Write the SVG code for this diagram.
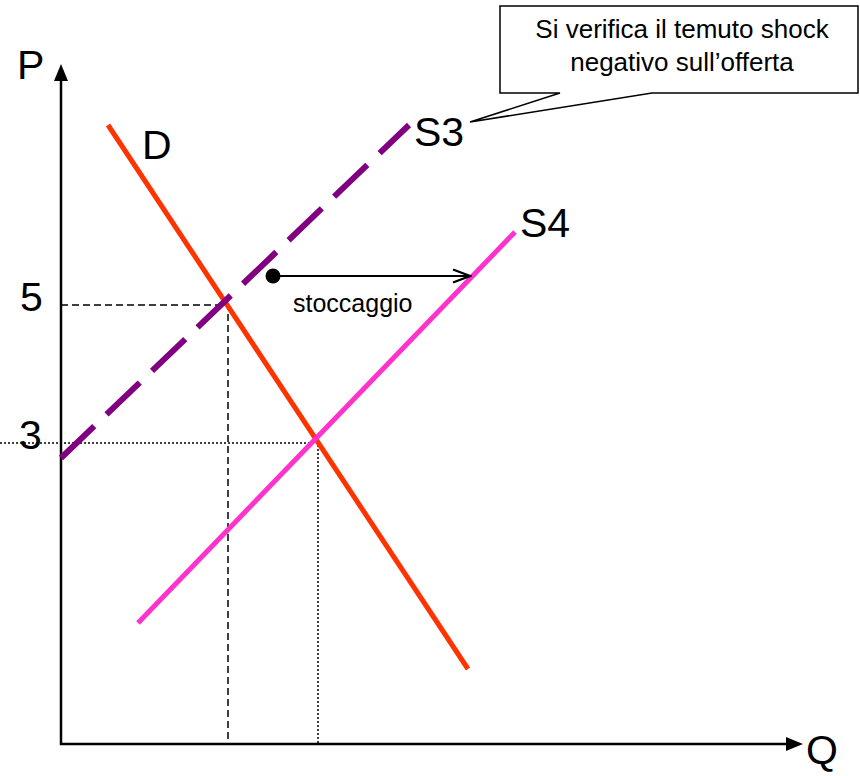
<svg xmlns="http://www.w3.org/2000/svg" width="860" height="776" viewBox="0 0 860 776">
<style>
.lbl{font-family:"Liberation Sans",Arial,sans-serif;fill:#000}
.big{font-size:41px}
.small{font-size:26px}
.axis{stroke:#000;stroke-width:2.5;fill:none}
.guide{stroke:#000;stroke-width:1.5;fill:none}
</style>
<defs>
<marker id="open" viewBox="0 0 20 16" refX="18" refY="8" markerWidth="20" markerHeight="16" markerUnits="userSpaceOnUse" orient="auto">
<path d="M1,1.5 L18,8 L1,14.5" fill="none" stroke="#000" stroke-width="2.2"/>
</marker>
</defs>
<rect width="860" height="776" fill="#fff"/>
<g id="axes">
<line class="axis" x1="61" y1="745" x2="61" y2="78"/>
<polygon points="61,64 54,81 68,81" fill="#000"/>
<line class="axis" x1="60" y1="744" x2="790" y2="744"/>
<polygon points="803,744 786,737 786,751" fill="#000"/>
<text class="lbl big" x="17" y="79">P</text>
<text class="lbl big" x="806" y="764">Q</text>
</g>
<g id="guides">
<path class="guide" stroke-dasharray="7,4" d="M61,305 H228 V744"/>
<path class="guide" stroke-dasharray="2,2" d="M0,443 H318 V744"/>
<text class="lbl big" x="20" y="311">5</text>
<text class="lbl big" x="19" y="449">3</text>
</g>
<g id="curve-D">
<line x1="108" y1="125" x2="468" y2="669" stroke="#FF3300" stroke-width="5"/>
<text class="lbl big" x="142" y="159">D</text>
</g>
<g id="curve-S3">
<line x1="61" y1="458" x2="409" y2="125" stroke="#800080" stroke-width="6" stroke-dasharray="46,17"/>
<text class="lbl big" x="414" y="146">S3</text>
</g>
<g id="curve-S4">
<line x1="138" y1="623" x2="515" y2="232" stroke="#FF33CC" stroke-width="5"/>
<text class="lbl big" x="520" y="237">S4</text>
</g>
<g id="connectors">
<circle cx="273" cy="276" r="7.5" fill="#000"/>
<line x1="273" y1="276" x2="470" y2="276" stroke="#000" stroke-width="2" marker-end="url(#open)"/>
<text class="lbl small" x="293" y="312" style="font-size:25px">stoccaggio</text>
</g>
<g id="callout">
<path d="M500,6 H858 V93 H652 L470,122 L560,93 H500 Z" fill="#fff" stroke="#000" stroke-width="1.5" stroke-linejoin="miter"/>
<text class="lbl small" x="682" y="38" text-anchor="middle">Si verifica il temuto shock</text>
<text class="lbl small" x="682" y="71" text-anchor="middle">negativo sull’offerta</text>
</g>
</svg>
